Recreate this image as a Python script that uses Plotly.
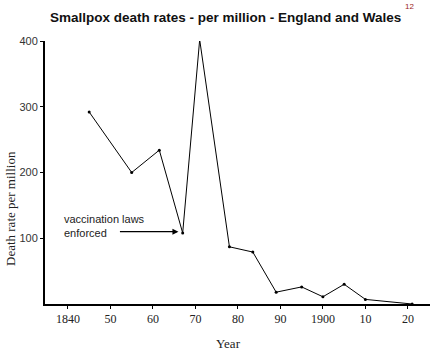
import plotly.graph_objects as go

years = [1845, 1855, 1861.5, 1867, 1871, 1878, 1883.5, 1889, 1895, 1900, 1905, 1910, 1921]
rates = [292, 200, 234, 108, 402, 87, 79, 18, 26, 11, 30, 7, 0]
tick_years = [1840, 1850, 1860, 1870, 1880, 1890, 1900, 1910, 1920]
tick_text = ["1840", "50", "60", "70", "80", "90", "1900", "10", "20"]
y_ticks = [100, 200, 300, 400]

fig = go.Figure()
fig.add_trace(go.Scatter(
    x=years, y=rates, mode="lines+markers",
    line=dict(color="black", width=1),
    marker=dict(color="black", size=3),
    showlegend=False, cliponaxis=False,
))

fig.update_layout(
    width=438, height=354,
    margin=dict(l=45, r=8, t=41, b=50),
    paper_bgcolor="white", plot_bgcolor="white",
    xaxis=dict(
        range=[1834.6, 1925.2], tickvals=tick_years, ticktext=tick_text,
        showgrid=False, zeroline=False, showline=True, linecolor="black", linewidth=1.5,
        ticks="outside", ticklen=3, tickcolor="black",
        tickfont=dict(family="Liberation Serif, Times New Roman, serif", size=12, color="#222"),
    ),
    yaxis=dict(
        range=[0, 400], tickvals=y_ticks,
        showgrid=False, zeroline=False, showline=True, linecolor="black", linewidth=2,
        ticks="outside", ticklen=3, tickcolor="black",
        tickfont=dict(family="Liberation Sans, Arial, sans-serif", size=11, color="#333"),
    ),
    font=dict(family="Liberation Sans, Arial, sans-serif", color="black"),
)

fig.add_annotation(text="<b>Smallpox death rates - per million - England and Wales</b>",
                   xref="paper", yref="paper", x=(225 - 45) / 385, y=1 + (41 - 17) / 263,
                   showarrow=False, font=dict(family="Liberation Sans, Arial, sans-serif", size=13.5, color="#111"),
                   xanchor="center", yanchor="middle")
fig.add_annotation(text="12", xref="paper", yref="paper", x=(409 - 45) / 385, y=1 + (41 - 6) / 263,
                   showarrow=False, font=dict(family="Liberation Sans, Arial, sans-serif", size=8, color="#9b1c1c"),
                   xanchor="center", yanchor="middle")
fig.add_annotation(text="Death rate per million", xref="paper", yref="paper",
                   x=(10 - 45) / 385, y=(304 - 209) / 263, textangle=-90, showarrow=False,
                   font=dict(family="Liberation Serif, Times New Roman, serif", size=13, color="#222"),
                   xanchor="center", yanchor="middle")
fig.add_annotation(text="Year", xref="paper", yref="paper",
                   x=(228 - 45) / 385, y=-(343 - 304) / 263, showarrow=False,
                   font=dict(family="Liberation Serif, Times New Roman, serif", size=13, color="#222"),
                   xanchor="center", yanchor="middle")
fig.add_annotation(text="vaccination laws<br>enforced", xref="paper", yref="paper",
                   x=(62 - 45) / 385, y=(304 - 226) / 263, showarrow=False, align="left",
                   font=dict(family="Liberation Sans, Arial, sans-serif", size=11, color="#222"),
                   xanchor="left", yanchor="middle")
fig.add_annotation(text="", x=1866, y=110, xref="x", yref="y",
                   ax=-60, ay=0, axref="pixel", ayref="pixel",
                   showarrow=True, arrowhead=2, arrowsize=1, arrowwidth=1.2, arrowcolor="black")

fig.write_html("out.html")
